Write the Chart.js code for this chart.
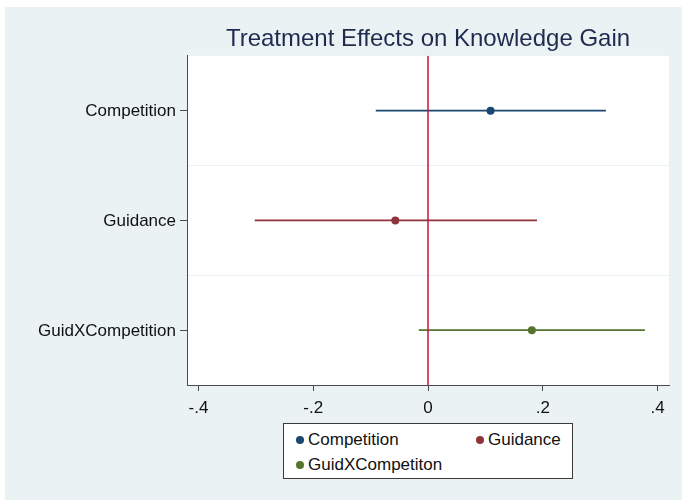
<!DOCTYPE html>
<html>
<head>
<meta charset="utf-8">
<script src="https://cdn.jsdelivr.net/npm/chart.js@4/dist/chart.umd.min.js"></script>
<style>
  html, body { margin: 0; padding: 0; background: #ffffff; }
  #wrap { position: absolute; left: 5px; top: 7px; width: 677px; height: 493px; background: #eaf2f3; }
  #c { position: absolute; left: 0; top: 0; }
  #legend { position: absolute; left: 278px; top: 416px; width: 288px; height: 54px;
            background: #ffffff; border: 1px solid #3a3a3a;
            font-family: 'Liberation Sans', Arial, sans-serif; font-size: 17px; color: #111; }
  .item { position: absolute; white-space: nowrap; line-height: 20px; }
  .dot { position: absolute; width: 8px; height: 8px; border-radius: 50%; top: 6px; left: 0; }
  .lbl { position: absolute; left: 12px; top: 0; }
</style>
</head>
<body>
<div id="wrap">
  <canvas id="c" width="677" height="493"></canvas>
  <div id="legend"></div>
</div>
<script>
// ---- data ----
const categories = ["Competition", "Guidance", "GuidXCompetition"];
const seriesNames = ["Competition", "Guidance", "GuidXCompetiton"];
const estimates = [0.109, -0.057, 0.181];
const lowerCI   = [-0.091, -0.302, -0.016];
const upperCI   = [0.310, 0.190, 0.378];
const xTickValues = [-0.4, -0.2, 0, 0.2, 0.4];
const zeroLine = 0;
const colors = ["#1a476f", "#90353b", "#55752f"];

// ---- build datasets ----
const datasets = [];
datasets.push({
  label: "zero",
  data: [{x: zeroLine, y: 0.5}, {x: zeroLine, y: 3.5}],
  showLine: true, borderColor: "#c8103e", borderWidth: 1.5,
  pointRadius: 0, order: 0
});
categories.forEach((c, i) => {
  datasets.push({
    label: seriesNames[i],
    data: [{x: estimates[i], y: i + 1}],
    showLine: false, pointRadius: 4, pointHoverRadius: 4,
    backgroundColor: colors[i], borderColor: colors[i], borderWidth: 0,
    order: 1
  });
  datasets.push({
    label: seriesNames[i] + " CI",
    data: [{x: lowerCI[i], y: i + 1}, {x: upperCI[i], y: i + 1}],
    showLine: true, borderColor: colors[i], borderWidth: 1.6,
    pointRadius: 0, order: 2
  });
});

const bgPlugin = {
  id: "plotBg",
  beforeDraw(chart) {
    const {ctx, chartArea: a} = chart;
    ctx.save();
    ctx.fillStyle = "#ffffff";
    ctx.fillRect(a.left, a.top, a.right - a.left, a.bottom - a.top);
    ctx.restore();
  }
};

Chart.defaults.font.family = "'Liberation Sans', Arial, sans-serif";
Chart.defaults.color = "#111111";

new Chart(document.getElementById("c"), {
  type: "scatter",
  data: { datasets },
  plugins: [bgPlugin],
  options: {
    responsive: false,
    animation: false,
    devicePixelRatio: 1,
    layout: { padding: { left: 0, right: 13, top: 0, bottom: 0 } },
    plugins: {
      legend: { display: false },
      tooltip: { enabled: false },
      title: {
        display: true, fullSize: false,
        text: "Treatment Effects on Knowledge Gain",
        color: "#1e2b4f",
        font: { size: 24, weight: "normal" },
        padding: { top: 18, bottom: 2 }
      }
    },
    scales: {
      x: {
        type: "linear", min: -0.42, max: 0.42,
        afterBuildTicks: s => { s.ticks = xTickValues.map(v => ({value: v})); },
        afterFit: s => { s.height = 115; },
        border: { display: true, color: "#4b4b4b", width: 1 },
        grid: { drawOnChartArea: false, drawTicks: true, tickLength: 6, tickColor: "#4b4b4b" },
        ticks: {
          padding: 7, font: { size: 17 }, color: "#111",
          maxRotation: 0,
          callback: v => {
            if (Math.abs(v) < 1e-9) return "0";
            return (v < 0 ? "-" : "") + String(Math.abs(Math.round(v * 10) / 10)).replace(/^0/, "");
          }
        }
      },
      y: {
        type: "linear", min: 0.5, max: 3.5, reverse: true,
        afterBuildTicks: s => {
          const t = [];
          categories.forEach((c, i) => { t.push({value: i + 1}); if (i < categories.length - 1) t.push({value: i + 1.5}); });
          s.ticks = t;
        },
        afterFit: s => { s.width = 182; },
        border: { display: true, color: "#4b4b4b", width: 1 },
        grid: {
          drawOnChartArea: true, drawTicks: true, tickLength: 7,
          color: ctx => (ctx.tick && ctx.tick.value % 1 !== 0) ? "#eaf2f3" : "rgba(0,0,0,0)",
          tickColor: ctx => (ctx.tick && ctx.tick.value % 1 !== 0) ? "rgba(0,0,0,0)" : "#4b4b4b"
        },
        ticks: {
          padding: 4, font: { size: 17 }, color: "#111",
          autoSkip: false, labelOffset: 1,
          callback: v => (v % 1 === 0 ? categories[v - 1] : "")
        }
      }
    }
  }
});

// ---- HTML legend built from the series ----
const legend = document.getElementById("legend");
const pos = [[12, 16], [192, 16], [12, 41]];
seriesNames.forEach((n, i) => {
  const it = document.createElement("div");
  it.className = "item";
  it.style.left = pos[i][0] + "px";
  it.style.top = (pos[i][1] - 10) + "px";
  const d = document.createElement("span");
  d.className = "dot"; d.style.background = colors[i];
  const l = document.createElement("span");
  l.className = "lbl"; l.textContent = n;
  it.appendChild(d); it.appendChild(l);
  legend.appendChild(it);
});
</script>
</body>
</html>
